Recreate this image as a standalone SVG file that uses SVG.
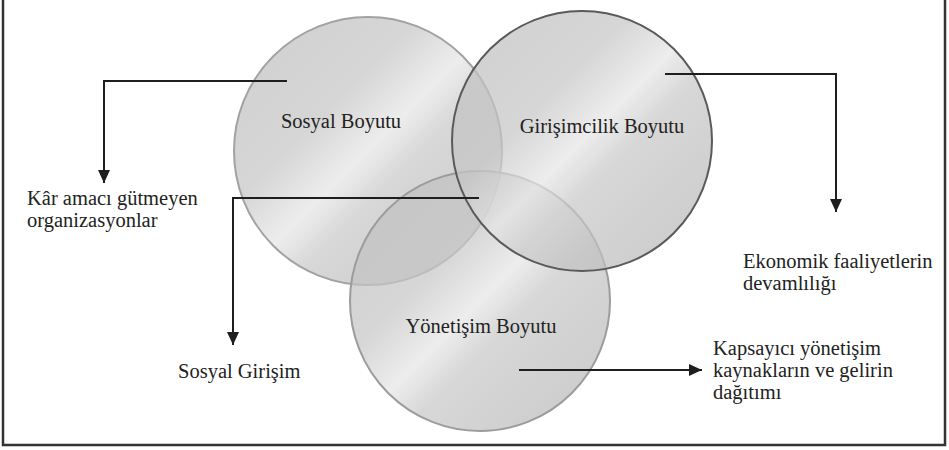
<svg xmlns="http://www.w3.org/2000/svg" width="949" height="450" viewBox="0 0 949 450">
<defs>
<linearGradient id="g" x1="0" y1="0" x2="1" y2="1">
<stop offset="0" stop-color="#bdbdbd"/>
<stop offset="0.35" stop-color="#c6c6c6"/>
<stop offset="0.5" stop-color="#e6e6e6"/>
<stop offset="0.6" stop-color="#c8c8c8"/>
<stop offset="1" stop-color="#b4b4b4"/>
</linearGradient>
<marker id="ah" markerUnits="userSpaceOnUse" markerWidth="13" markerHeight="12" refX="13" refY="6" orient="auto">
<path d="M0,0 L13,6 L0,12 z" fill="#1e1e1e"/>
</marker>
<style>
.c{fill:url(#g);fill-opacity:0.72;stroke-width:2}
.t{font-family:"Liberation Serif","Times New Roman",serif;font-size:20.5px;fill:#222}
.m{text-anchor:middle}
.k{fill:none;stroke:#1e1e1e;stroke-width:2}
</style>
</defs>
<rect width="949" height="450" fill="#fff"/>
<path d="M3,0 V445 H945 V0" fill="none" stroke="#333" stroke-width="2.5"/>
<g id="sosyal">
<circle class="c" cx="368" cy="151" r="134" stroke="#a2a2a2"/>
</g>
<g id="yonetisim">
<circle class="c" cx="480" cy="301" r="130" stroke="#9c9c9c"/>
</g>
<g id="girisimcilik">
<circle class="c" cx="582" cy="141" r="130" stroke="#5a5a5a"/>
</g>
<g id="labels-circles">
<text class="t m" x="341" y="128">Sosyal Boyutu</text>
<text class="t m" x="602" y="133">Girişimcilik Boyutu</text>
<text class="t m" x="481" y="333">Yönetişim Boyutu</text>
</g>
<g id="connectors">
<path class="k" d="M287,81 H104 V183" marker-end="url(#ah)"/>
<path class="k" d="M665,74 H836 V212" marker-end="url(#ah)"/>
<path class="k" d="M479,198 H233 V345" marker-end="url(#ah)"/>
<path class="k" d="M519,370 H702" marker-end="url(#ah)"/>
</g>
<g id="kar">
<text class="t" x="27" y="205">Kâr amacı gütmeyen</text>
<text class="t" x="27" y="227">organizasyonlar</text>
</g>
<g id="sosyal-girisim">
<text class="t" x="178" y="378">Sosyal Girişim</text>
</g>
<g id="ekonomik">
<text class="t" x="743" y="268">Ekonomik faaliyetlerin</text>
<text class="t" x="743" y="290">devamlılığı</text>
</g>
<g id="kapsayici">
<text class="t" x="713" y="355">Kapsayıcı yönetişim</text>
<text class="t" x="713" y="377">kaynakların ve gelirin</text>
<text class="t" x="713" y="399">dağıtımı</text>
</g>
</svg>
